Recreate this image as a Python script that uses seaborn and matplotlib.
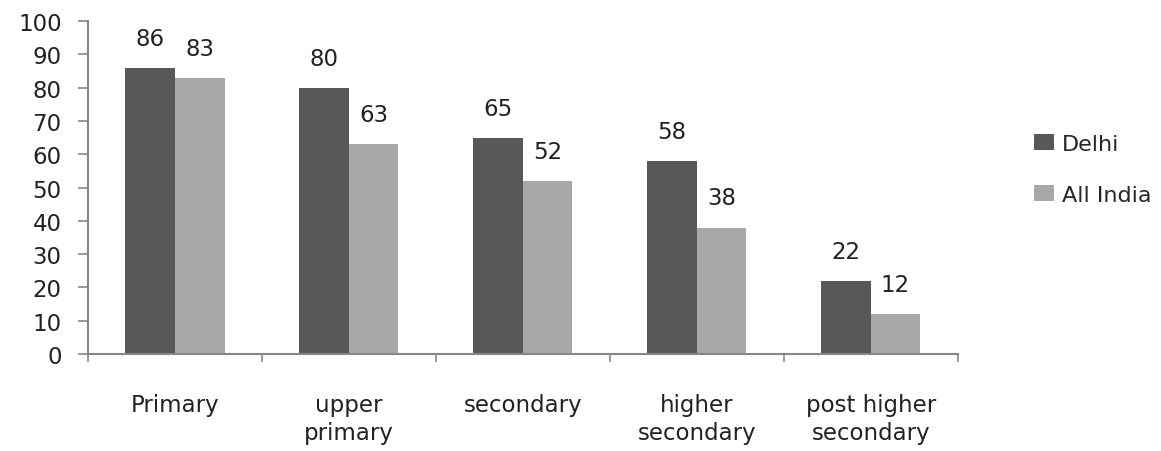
import pandas as pd
import matplotlib.pyplot as plt
import seaborn as sns

categories = ["Primary", "upper\nprimary", "secondary", "higher\nsecondary", "post higher\nsecondary"]
delhi = [86, 80, 65, 58, 22]
all_india = [83, 63, 52, 38, 12]
series = ["Delhi", "All India"]

df = pd.DataFrame({
    "level": categories * 2,
    "value": delhi + all_india,
    "region": [series[0]] * len(categories) + [series[1]] * len(categories),
})

sns.set_style("white")
plt.rcParams["font.family"] = ["DejaVu Sans"]

fig = plt.figure(figsize=(11.61, 4.52), dpi=100)
ax = fig.add_axes([0.0758, 0.2146, 0.749, 0.7364])

sns.barplot(
    data=df, x="level", y="value", hue="region",
    palette=["#585858", "#a8a8a8"], width=0.57, saturation=1,
    edgecolor="none", linewidth=0, ax=ax,
)

for cont in ax.containers:
    ax.bar_label(cont, padding=13, fontsize=16.5, color="#222222")

ax.set_ylim(0, 100)
ax.set_xlim(-0.5, len(categories) - 0.5)
ax.set_yticks(range(0, 101, 10))
ax.set_xlabel("")
ax.set_ylabel("")
sns.despine(ax=ax)
for s in ["left", "bottom"]:
    ax.spines[s].set_color("#868686")
    ax.spines[s].set_linewidth(1.5)

ax.tick_params(axis="y", labelsize=16.5, length=7, width=1.2, color="#868686",
               direction="out", left=True, pad=12, labelcolor="#222222")
ax.tick_params(axis="x", which="major", length=0, labelsize=16.5, pad=28,
               labelcolor="#222222")
for lab in ax.get_xticklabels():
    lab.set_linespacing(1.3)
ax.set_xticks([i - 0.5 for i in range(len(categories) + 1)], minor=True)
ax.tick_params(axis="x", which="minor", length=6, width=1.2, color="#868686",
               direction="out", bottom=True)

ax.legend(loc="center left", bbox_to_anchor=(1.065, 0.555), frameon=False,
          fontsize=16, handlelength=0.9, handleheight=0.7, labelspacing=1.4,
          handletextpad=0.35)

fig.savefig("out.png", dpi=100)
plt.close(fig)
